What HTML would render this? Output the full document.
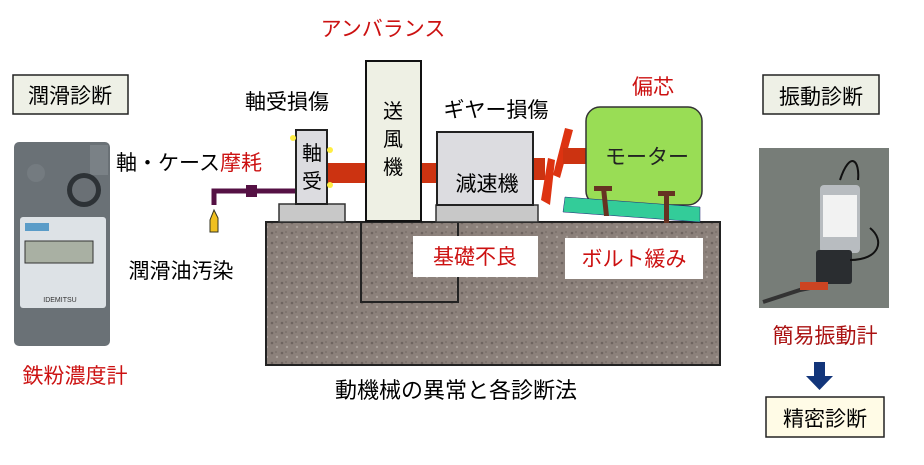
<!DOCTYPE html>
<html><head><meta charset="utf-8"><style>
body{margin:0;background:#fff}
svg text{font-family:"Liberation Sans","Noto Sans CJK JP",sans-serif}
</style></head><body>
<svg width="924" height="460" viewBox="0 0 924 460" xmlns="http://www.w3.org/2000/svg">
<defs>
<pattern id="g" width="10" height="10" patternUnits="userSpaceOnUse"><rect width="10" height="10" fill="#8c817b"/><circle cx="2" cy="3" r="1.3" fill="#6e645f"/><circle cx="7" cy="7" r="1.2" fill="#a89f99"/><circle cx="6" cy="2" r="0.9" fill="#766c66"/></pattern>
</defs>
<rect x="266" y="222" width="454" height="143" fill="url(#g)" stroke="#222" stroke-width="2"/>
<polyline points="361,222 361,302 458,302 458,222" fill="none" stroke="#222" stroke-width="2"/>
<rect x="413" y="236" width="125" height="41" fill="#fff"/>
<text x="475" y="264" font-size="21" fill="#cc1111" text-anchor="middle">基礎不良</text>
<rect x="565" y="238" width="138" height="41" fill="#fff"/>
<text x="634" y="266" font-size="21" fill="#cc1111" text-anchor="middle">ボルト緩み</text>
<polyline points="214,205 214,191 296,191" fill="none" stroke="#551144" stroke-width="5"/>
<rect x="246" y="185" width="11" height="12" fill="#551144"/>
<path d="M214,210 l4,8 l0,14 l-8,0 l0,-12 z" fill="#f0c020" stroke="#332" stroke-width="1"/>
<rect x="327" y="163" width="40" height="20" fill="#cc3311"/>
<rect x="421" y="163" width="17" height="20" fill="#cc3311"/>
<rect x="533" y="158" width="12" height="22" fill="#cc3311"/>
<polygon points="541,200 548,158 555,160 550,205" fill="#dd3311"/>
<polygon points="553,175 565,128 573,130 560,178" fill="#dd3311"/>
<rect x="563" y="148" width="25" height="16" fill="#cc3311"/>
<rect x="279" y="204" width="66" height="18" fill="#c8c8c8" stroke="#333" stroke-width="1.5"/>
<rect x="296" y="130" width="31" height="74" fill="#dcdce0" stroke="#222" stroke-width="2"/>
<text x="312" y="160" font-size="20" text-anchor="middle">軸</text>
<text x="312" y="188" font-size="20" text-anchor="middle">受</text>
<circle cx="293" cy="138" r="3" fill="#ffee44"/><circle cx="330" cy="150" r="3" fill="#ffee44"/><circle cx="330" cy="185" r="3" fill="#ffee44"/>
<rect x="366" y="61" width="55" height="160" fill="#eef0e4" stroke="#111" stroke-width="2"/>
<text x="393" y="118" font-size="20" text-anchor="middle">送</text>
<text x="393" y="146" font-size="20" text-anchor="middle">風</text>
<text x="393" y="174" font-size="20" text-anchor="middle">機</text>
<rect x="436" y="205" width="102" height="17" fill="#c8c8c8" stroke="#333" stroke-width="1.5"/>
<rect x="437" y="132" width="96" height="73" fill="#dcdce0" stroke="#222" stroke-width="2"/>
<text x="487" y="191" font-size="21" text-anchor="middle">減速機</text>
<rect x="586" y="107" width="116" height="98" rx="14" fill="#99dd55" stroke="#333" stroke-width="1.5"/>
<text x="647" y="164" font-size="21" text-anchor="middle" fill="#222">モーター</text>
<polygon points="565,197 700,207 700,222 563,212" fill="#33cc99" stroke="#227" stroke-width="0.5"/>
<polygon points="601,188 604,216 609,216 606,188" fill="#663322"/><rect x="594" y="186" width="18" height="5" fill="#663322"/>
<rect x="664" y="193" width="5" height="30" fill="#663322"/><rect x="658" y="191" width="17" height="5" fill="#663322"/>
<text x="383" y="36" font-size="21" fill="#cc1111" text-anchor="middle">アンバランス</text>
<text x="287" y="109" font-size="21" text-anchor="middle">軸受損傷</text>
<text x="496" y="117" font-size="21" text-anchor="middle">ギヤー損傷</text>
<text x="653" y="94" font-size="21" fill="#cc1111" text-anchor="middle">偏芯</text>
<text x="116" y="170" font-size="21">軸・ケース<tspan fill="#cc1111">摩耗</tspan></text>
<text x="181" y="278" font-size="21" text-anchor="middle">潤滑油汚染</text>
<text x="456" y="398" font-size="22" text-anchor="middle">動機械の異常と各診断法</text>
<rect x="13" y="75" width="115" height="39" fill="#eef0e6" stroke="#222" stroke-width="1.5"/>
<text x="70" y="103" font-size="21" text-anchor="middle">潤滑診断</text>
<rect x="14" y="142" width="96" height="204" rx="5" fill="#6a7176"/>
<rect x="90" y="145" width="18" height="30" fill="#7a8186"/>
<circle cx="84" cy="190" r="17" fill="#2d3236"/><circle cx="84" cy="190" r="12" fill="#6a7075"/>
<circle cx="36" cy="173" r="9" fill="#747b80"/>
<rect x="20" y="217" width="86" height="91" rx="3" fill="#dde2e6"/>
<rect x="25" y="223" width="24" height="8" fill="#5a9cc8"/>
<rect x="25" y="241" width="68" height="22" fill="#a9b0a3" stroke="#333"/>
<text x="60" y="302" font-size="7" fill="#333" text-anchor="middle">IDEMITSU</text>
<text x="75" y="383" font-size="21" fill="#cc1111" text-anchor="middle">鉄粉濃度計</text>
<rect x="763" y="75" width="116" height="39" fill="#eef0e6" stroke="#222" stroke-width="1.5"/>
<text x="821" y="104" font-size="21" text-anchor="middle">振動診断</text>
<rect x="759" y="148" width="130" height="160" fill="#777d78"/>
<rect x="820" y="185" width="40" height="68" rx="4" fill="#b8bcc0"/>
<rect x="823" y="195" width="34" height="42" fill="#f2f2f2"/>
<rect x="816" y="250" width="36" height="34" rx="3" fill="#2a2d30"/>
<path d="M763,302 L800,290 L820,286" stroke="#333" stroke-width="4" fill="none"/>
<rect x="800" y="282" width="28" height="8" fill="#cc4422"/>
<path d="M840,180 C850,150 860,160 858,180 M850,260 C880,260 885,240 870,228" stroke="#111" stroke-width="2" fill="none"/>
<text x="825" y="343" font-size="21" fill="#aa1111" text-anchor="middle">簡易振動計</text>
<rect x="814" y="362" width="11" height="15" fill="#12357a"/>
<polygon points="806,376 833,376 819.5,390" fill="#12357a"/>
<rect x="766" y="397" width="118" height="40" fill="#fffbe6" stroke="#222" stroke-width="1.5"/>
<text x="825" y="426" font-size="21" text-anchor="middle">精密診断</text>
</svg>
</body></html>
